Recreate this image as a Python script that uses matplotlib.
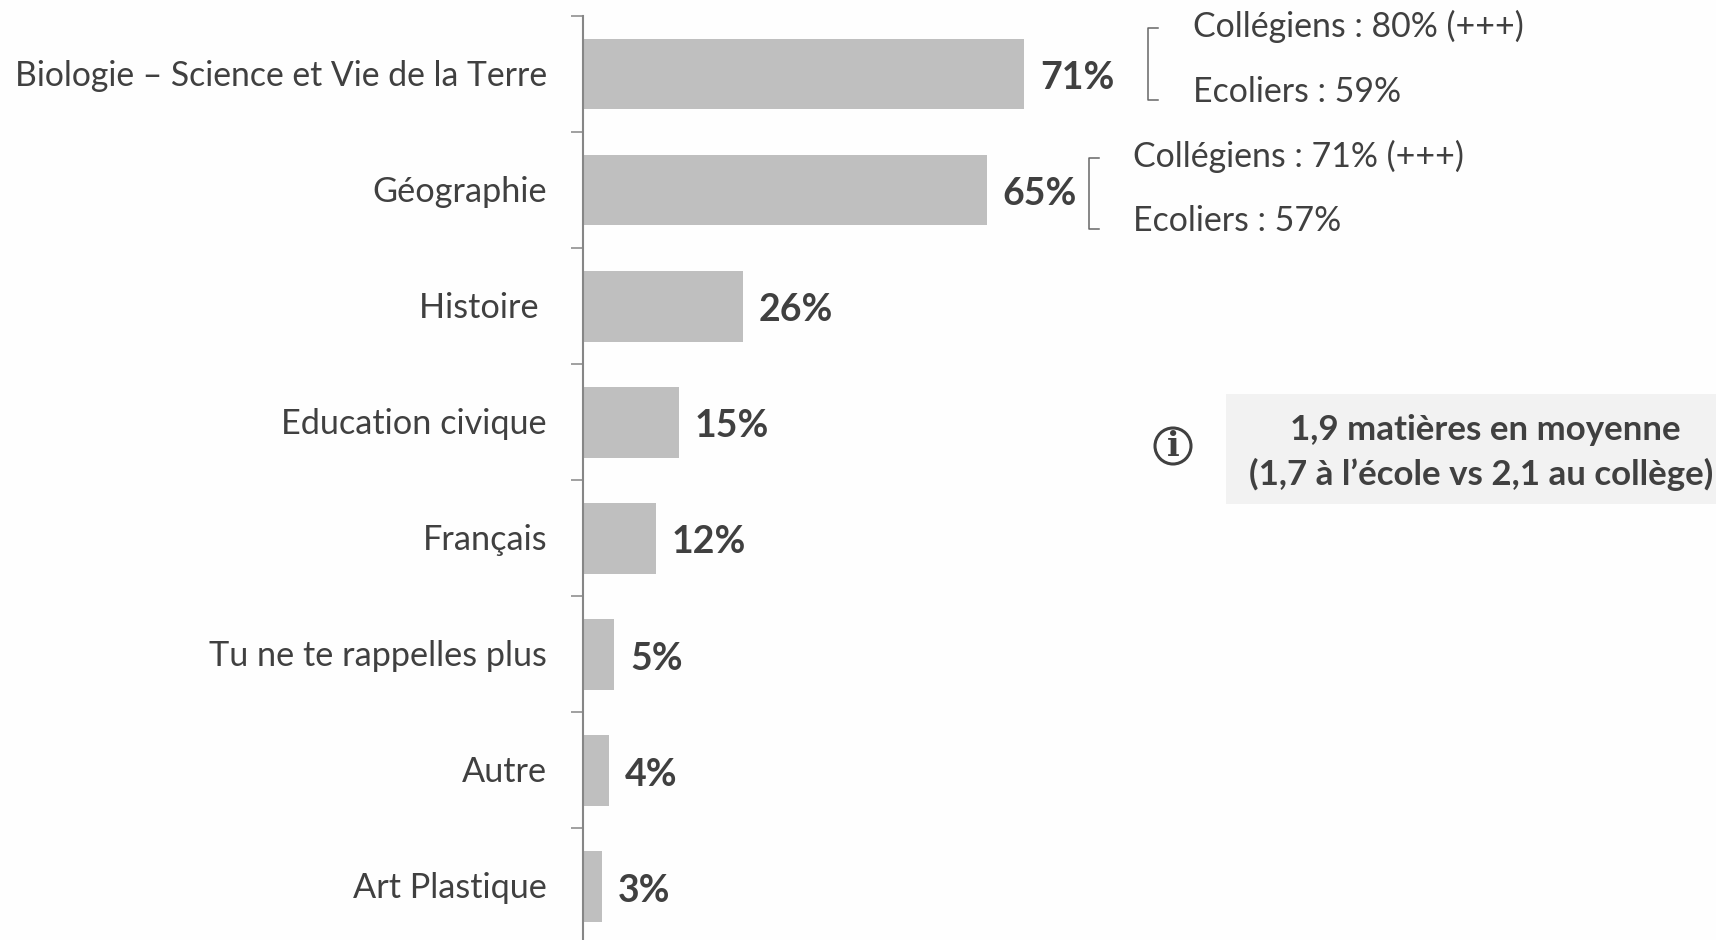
"""Matières citées : barres horizontales avec détail collégiens / écoliers."""

import matplotlib

matplotlib.use("Agg")
import matplotlib.pyplot as plt
from matplotlib.patches import Circle, Rectangle

plt.rcParams["font.family"] = ["Lato", "DejaVu Sans"]

CATEGORIES = [
    "Biologie – Science et Vie de la Terre",
    "Géographie",
    "Histoire ",
    "Education civique",
    "Français",
    "Tu ne te rappelles plus",
    "Autre",
    "Art Plastique",
]
VALUES = [71, 65, 26, 15, 12, 5, 4, 3]
# longueurs, les étiquettes sont arrondies
BAR_LENGTHS = [71, 65, 25.7, 15.4, 11.7, 5, 4.2, 3]
DETAILS = [
    ("Collégiens : 80% (+++)", "Ecoliers : 59%"),
    ("Collégiens : 71% (+++)", "Ecoliers : 57%"),
]
NOTE = ["1,9 matières en moyenne", "(1,7 à l’école vs 2,1 au collège)"]

W, H = 1716, 940
TEXT = "#404040"
BAR = "#bfbfbf"
AXIS = "#868686"
PX_PER_PCT = 6.21

fig = plt.figure(figsize=(W / 100, H / 100), dpi=100, facecolor="#fefefe")

ax = fig.add_axes([583 / W, 0, (W - 583) / W, (H - 16) / H])
ax.patch.set_alpha(0)
positions = list(range(len(VALUES)))
ax.barh(positions, BAR_LENGTHS, height=0.61, color=BAR, linewidth=0)
ax.set_xlim(0, (W - 583) / PX_PER_PCT)
ax.set_ylim((H - 74.5) / 116, -0.5)
for side in ["top", "right", "bottom"]:
    ax.spines[side].set_visible(False)
ax.spines["left"].set_color(AXIS)
ax.spines["left"].set_linewidth(1.5)
ax.set_xticks([])
ax.set_yticks([p - 0.5 for p in positions])
ax.set_yticklabels([])
ax.tick_params(axis="y", length=8.6, width=1.1, color=AXIS)

for p, v, length in zip(positions, VALUES, BAR_LENGTHS):
    ax.annotate(f"{v}%", (length, p), xytext=(11.5, -3), textcoords="offset points",
                ha="left", va="center", fontsize=27, fontweight="bold", color=TEXT)

# calque en pixels pour les textes autour du graphique
ov = fig.add_axes([0, 0, 1, 1])
ov.set_xlim(0, W)
ov.set_ylim(H, 0)
ov.axis("off")
ov.patch.set_alpha(0)

for p, label in zip(positions, CATEGORIES):
    # le libellé le plus long est plus large en Lato : on le resserre un peu
    size = 24.3 if p == 0 else 24.7
    ov.text(547, 76 + 116 * p, label, ha="right", va="center", fontsize=size, color=TEXT)

# accolades et détail
for (top, bottom), x_b, x_t, lines in [
    ((28, 100), 1148, 1193, DETAILS[0]),
    ((158, 229), 1089, 1133, DETAILS[1]),
]:
    ov.plot([x_b + 10, x_b, x_b, x_b + 10], [top, top, bottom, bottom],
            color="#666666", linewidth=1.1)
    ov.text(x_t, top - 2, lines[0], ha="left", va="center", fontsize=24.4, color=TEXT)
    ov.text(x_t, bottom - 8, lines[1], ha="left", va="center", fontsize=24.4, color=TEXT)

# encadré moyenne
ov.add_patch(Rectangle((1226, 394), W - 1226, 110, facecolor="#f2f2f2", edgecolor="none"))
ov.text(1485, 430, NOTE[0], ha="center", va="center", fontsize=25.1, fontweight="bold", color=TEXT)
ov.text(1481, 474, NOTE[1], ha="center", va="center", fontsize=25.1, fontweight="bold", color=TEXT)

ov.set_aspect("equal")
ov.add_patch(Circle((1173, 446), 18, facecolor="none", edgecolor=TEXT, linewidth=2.2))
ov.text(1173, 447, "i", ha="center", va="center", fontsize=24, fontweight="bold",
        family="DejaVu Serif", color=TEXT)

fig.savefig("out.png", dpi=100, facecolor=fig.get_facecolor())
